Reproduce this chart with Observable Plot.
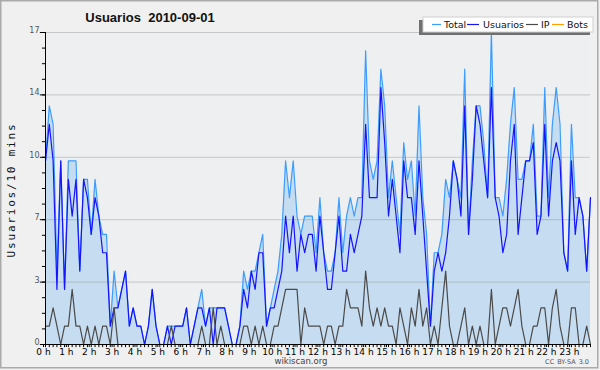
<!DOCTYPE html>
<html><head><meta charset="utf-8">
<script src="https://cdn.jsdelivr.net/npm/d3@7"></script>
<script src="https://cdn.jsdelivr.net/npm/@observablehq/plot@0.6"></script>
<style>body{margin:0;background:#f0f0f0}</style>
</head><body><div id="chart"></div>
<script>
// 10-minute slots, 144 per day
const total = [10,13,12,4,10,3,10,10,10,4,9,9,6,9,7,6,6,1,4,2,3,4,1,2,1,1,0,1,3,1,0,0,1,1,1,1,
1,2,0,1,2,3,1,2,2,2,2,2,1,0,0,1,4,3,4,4,5,6,1,2,3,4,6,10,8,10,7,6,7,7,7,5,
8,5,4,4,5,8,5,7,8,7,8,8,16,10,9,10,15,13,8,10,8,6,11,9,10,7,13,8,6,1,5,5,6,9,8,10,9,
8,15,6,10,13,13,11,8,17,8,8,7,9,12,14,9,9,10,10,12,7,7,14,8,12,14,12,5,4,12,8,8,7,4,8];
const usuarios = [10,12,10,3,10,3,9,7,9,4,9,8,6,8,7,5,5,1,2,2,3,4,1,2,1,1,0,1,3,1,0,0,1,0,1,1,
1,2,0,1,2,2,1,2,0,2,2,2,1,0,0,1,3,2,4,3,5,5,1,2,2,3,4,7,5,7,4,6,5,6,6,4,
7,5,3,3,5,7,4,4,6,5,6,7,12,8,8,8,14,11,7,9,7,5,10,8,8,6,10,7,4,1,4,5,4,5,7,10,9,
7,13,6,9,13,12,10,8,14,8,7,5,6,10,12,6,8,10,10,11,6,7,12,7,10,11,10,5,4,10,6,8,7,4,8];
const ip = [1,1,2,1,0,1,1,3,1,1,0,1,0,1,0,1,1,0,2,0,0,0,0,0,0,0,0,0,0,0,0,0,0,1,0,0,
0,0,0,0,0,1,0,0,2,0,1,0,0,0,0,0,1,1,0,1,0,1,0,0,1,1,2,3,3,3,3,0,2,1,1,1,
1,0,1,1,0,1,1,3,2,2,2,1,4,2,1,2,1,2,1,1,0,2,1,0,2,1,3,1,2,0,1,0,2,4,1,0,0,
1,2,0,1,0,1,0,0,3,0,1,2,2,1,2,3,1,0,0,1,1,2,2,0,2,3,1,0,0,2,2,0,0,1,0];

const seriesNames = ["Total", "Usuarios", "IP", "Bots"];
const seriesColors = ["#3d9dff", "#1414ff", "#4a4a4a", "#ffa000"];
const yTicks = [0, 3.4, 6.8, 10.2, 13.6, 17];
const yLabels = ["0", "3", "7", "10", "14", "17"];
const yMinor = d3.range(0, 17.001, 0.85);
const hourTicks = d3.range(0, 144, 6);
const slotTicks = d3.range(0, 144);
const titleText = "Usuarios  2010-09-01";
const yLabelText = "Usuarios/10 mins";

const rows = total.map((t, i) => ({i, total: t, usuarios: usuarios[i], ip: ip[i]}));

const plot = Plot.plot({
  width: 600, height: 370,
  marginLeft: 45, marginRight: 10, marginTop: 32, marginBottom: 26,
  style: {background: "#f0f0f0", fontFamily: "DejaVu Sans", color: "#000"},
  x: {domain: [0, 143], axis: null, label: null},
  y: {domain: [0, 17], axis: null, label: null},
  marks: [
    Plot.frame({fill: "#edeff1", stroke: null}),
    Plot.areaY(rows, {x: "i", y: "total", fill: "#c6dcf0"}),
    Plot.gridY(yTicks.slice(1), {stroke: "#8a8a8a", strokeOpacity: 0.4}),
    Plot.lineY(rows, {x: "i", y: "total", stroke: seriesColors[0], strokeWidth: 1.2}),
    Plot.lineY(rows, {x: "i", y: "usuarios", stroke: seriesColors[1], strokeWidth: 1.2}),
    Plot.lineY(rows, {x: "i", y: "ip", stroke: seriesColors[2], strokeWidth: 1.2}),
    Plot.ruleX([0], {stroke: "#000"}),
    Plot.ruleY([0], {stroke: "#000"}),
    // tick marks
    Plot.ruleY(yMinor, {y: d => d, x1: -0.8, x2: 0, stroke: "#000"}),
    Plot.ruleY(yTicks, {y: d => d, x1: -1.35, x2: 0, stroke: "#000"}),
    Plot.ruleX(slotTicks, {x: d => d, y1: 0, y2: -0.17, stroke: "#000"}),
    Plot.axisY(yTicks, {tickSize: 0, tickPadding: 6, fontSize: 8, fill: "#555", label: null,
      dy: -2, tickFormat: d => yLabels[yTicks.indexOf(d)]}),
    Plot.axisX(hourTicks, {tickSize: 3, tickPadding: 1, fontSize: 9, stroke: "#000", dx: -2, label: null,
      tickFormat: d => `${d / 6} h`})
  ]
});

const svg = d3.select(plot);
// border
svg.append("rect").attr("x", 0.75).attr("y", 0.75).attr("width", 597).attr("height", 367)
  .attr("fill", "none").attr("stroke", "#aaa").attr("stroke-width", 1.5);
// title
svg.append("text").attr("x", 150).attr("y", 22).attr("text-anchor", "middle")
  .attr("font-family", "Liberation Sans").attr("font-weight", "bold").attr("font-size", 13)
  .attr("fill", "#111").attr("xml:space", "preserve").style("white-space", "pre").text(titleText);
// y label
svg.append("text").attr("transform", "translate(15,190) rotate(-90)").attr("text-anchor", "middle")
  .attr("font-family", "DejaVu Sans Mono").attr("font-size", 11).attr("letter-spacing", 1.8)
  .attr("fill", "#111").text(yLabelText);
// legend
const lg = svg.append("g").attr("text-anchor", "start");
lg.append("rect").attr("x", 419).attr("y", 20).attr("width", 171).attr("height", 15).attr("fill", "#707070");
lg.append("rect").attr("x", 423).attr("y", 17).attr("width", 170).attr("height", 15)
  .attr("fill", "#fff").attr("stroke", "#cfcfcf");
const swX = [[432, 441], [467, 479], [526, 538], [552, 564]];
const txX = [444, 483, 541, 567];
seriesNames.forEach((n, k) => {
  lg.append("line").attr("x1", swX[k][0]).attr("x2", swX[k][1]).attr("y1", 24.5).attr("y2", 24.5)
    .attr("stroke", seriesColors[k]).attr("stroke-width", 1.2);
  lg.append("text").attr("x", txX[k]).attr("y", 28).attr("text-anchor", "start")
    .attr("font-family", "DejaVu Sans").attr("font-size", 9.5).attr("fill", "#111").text(n);
});
// footer
svg.append("text").attr("x", 301).attr("y", 364).attr("text-anchor", "middle")
  .attr("font-family", "DejaVu Sans").attr("font-size", 8.5).attr("fill", "#444").text("wikiscan.org");
svg.append("text").attr("x", 589).attr("y", 364).attr("text-anchor", "end")
  .attr("font-family", "DejaVu Sans").attr("font-size", 6.5).attr("word-spacing", 1)
  .attr("fill", "#555").text("CC BY-SA 3.0");

document.getElementById("chart").appendChild(plot);
</script>
</body></html>
